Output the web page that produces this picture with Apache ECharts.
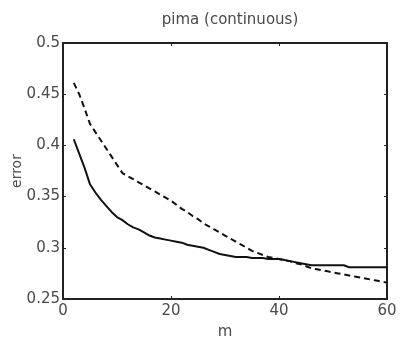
<!DOCTYPE html>
<html><head><meta charset="utf-8">
<script src="https://cdn.jsdelivr.net/npm/echarts@6/dist/echarts.min.js"></script>
<style>html,body{margin:0;padding:0;background:#fff}#c{width:401px;height:339px}</style>
</head><body><div id="c"></div>
<script>
const mValues = [2,3,4,5,6,7,8,9,10,11,12,13,14,15,16,17,18,19,20,21,22,23,24,25,26,27,28,29,30,31,32,33,34,35,36,37,38,39,40,41,42,43,44,45,46,47,48,49,50,51,52,53,54,55,56,57,58,59,60];
const solidErr = [0.406,0.392,0.378,0.362,0.354,0.347,0.341,0.335,0.330,0.327,0.323,0.320,0.318,0.315,0.312,0.310,0.309,0.308,0.307,0.306,0.305,0.303,0.302,0.301,0.300,0.298,0.296,0.294,0.293,0.292,0.291,0.291,0.291,0.290,0.290,0.290,0.289,0.289,0.289,0.288,0.287,0.286,0.285,0.284,0.283,0.283,0.283,0.283,0.283,0.283,0.283,0.281,0.281,0.281,0.281,0.281,0.281,0.281,0.281];
const dashedErr = [0.461,0.450,0.436,0.421,0.413,0.405,0.397,0.389,0.381,0.373,0.370,0.367,0.364,0.361,0.358,0.355,0.352,0.349,0.346,0.342,0.338,0.335,0.331,0.328,0.324,0.321,0.318,0.315,0.312,0.309,0.306,0.303,0.300,0.297,0.295,0.293,0.291,0.290,0.289,0.288,0.287,0.285,0.284,0.282,0.280,0.279,0.278,0.277,0.276,0.275,0.274,0.273,0.272,0.271,0.270,0.269,0.268,0.267,0.266];
const titleText = 'pima (continuous)';
const xName = 'm', yName = 'error';

const chart = echarts.init(document.getElementById('c'), null, {renderer:'canvas'});
const font = 'DejaVu Sans, sans-serif';
const lbl = {color:'#4a4a4a', fontSize:15, fontFamily:font};
const baseX = {type:'value', min:0, max:60, interval:20,
  axisLine:{show:true, onZero:false, lineStyle:{color:'#222', width:2}},
  axisTick:{show:true, inside:true, length:3, lineStyle:{color:'#222'}},
  splitLine:{show:false}};
const baseY = {type:'value', min:0.25, max:0.5, interval:0.05,
  axisLine:{show:true, onZero:false, lineStyle:{color:'#222', width:2}},
  axisTick:{show:true, inside:true, length:3, lineStyle:{color:'#222'}},
  splitLine:{show:false}};
chart.setOption({
  animation:false,
  title:{text:titleText, left:225, top:8, textAlign:'center',
    textStyle:{color:'#4a4a4a', fontSize:15, fontWeight:'normal', fontFamily:font}},
  grid:{left:63, right:14, top:43, bottom:40, containLabel:false, outerBoundsMode:'none'},
  xAxis:[
    Object.assign({}, baseX, {position:'bottom', name:xName, nameLocation:'middle', nameGap:26,
      nameMoveOverlap:false,
      nameTextStyle:{color:'#4a4a4a', fontSize:15, fontFamily:font},
      axisLabel:Object.assign({margin:5}, lbl)}),
    Object.assign({}, baseX, {position:'top', axisLabel:{show:false}})
  ],
  yAxis:[
    Object.assign({}, baseY, {position:'left', name:yName, nameLocation:'middle', nameGap:39,
      nameMoveOverlap:false,
      nameTextStyle:{color:'#4a4a4a', fontSize:14, fontFamily:font},
      axisLabel:Object.assign({margin:3, formatter:v=>String(+v.toFixed(2))}, lbl)}),
    Object.assign({}, baseY, {position:'right', axisLabel:{show:false}})
  ],
  series:[
    {type:'line', data:mValues.map((m,i)=>[m,solidErr[i]]), showSymbol:false,
     lineStyle:{color:'#111', width:2}},
    {type:'line', data:mValues.map((m,i)=>[m,dashedErr[i]]), showSymbol:false,
     lineStyle:{color:'#111', width:2, type:[6,4]}}
  ]
});
</script></body></html>
